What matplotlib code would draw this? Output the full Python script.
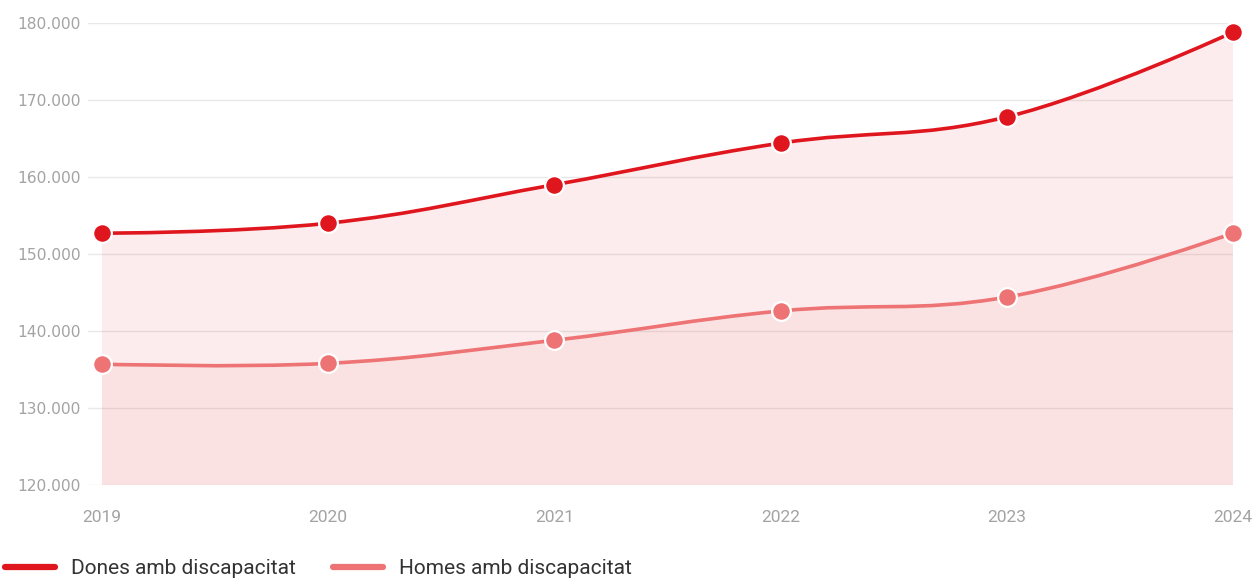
import numpy as np
import matplotlib
matplotlib.use("Agg")
import matplotlib.pyplot as plt
from matplotlib.path import Path
from matplotlib.patches import PathPatch
from matplotlib.ticker import FuncFormatter
from matplotlib import font_manager

years = [2019, 2020, 2021, 2022, 2023, 2024]
dones = [152700, 154000, 159000, 164400, 167800, 178800]
homes = [135700, 135800, 138800, 142600, 144400, 152700]
series_names = ["Dones amb discapacitat", "Homes amb discapacitat"]
line_colors = ["#e0161f", "#ee7374"]

available = {f.name for f in font_manager.fontManager.ttflist}
narrow = "Liberation Sans Narrow" if "Liberation Sans Narrow" in available else "Roboto"


def spline_path(xs, ys, base):
    # highcharts-like spline (smoothing 1.5) built from cubic beziers
    xs = list(map(float, xs))
    ys = list(map(float, ys))
    n = len(xs)
    left = [None] * n
    right = [None] * n
    sm = 1.5
    d = sm + 1
    for i in range(1, n - 1):
        lx = (sm * xs[i] + xs[i - 1]) / d
        ly = (sm * ys[i] + ys[i - 1]) / d
        rx = (sm * xs[i] + xs[i + 1]) / d
        ry = (sm * ys[i] + ys[i + 1]) / d
        if rx != lx:
            corr = ((ry - ly) * (rx - xs[i])) / (rx - lx) + ys[i] - ry
            ly += corr
            ry += corr
        left[i] = (lx, ly)
        right[i] = (rx, ry)
    verts = [(xs[0], ys[0])]
    codes = [Path.MOVETO]
    for i in range(1, n):
        c1 = right[i - 1] if right[i - 1] else (xs[i - 1], ys[i - 1])
        c2 = left[i] if left[i] else (xs[i], ys[i])
        verts += [c1, c2, (xs[i], ys[i])]
        codes += [Path.CURVE4] * 3
    line = Path(verts, codes)
    area = Path(verts + [(xs[-1], base), (xs[0], base), (xs[0], ys[0])],
                codes + [Path.LINETO, Path.LINETO, Path.CLOSEPOLY])
    return line, area


fig = plt.figure(figsize=(12.56, 5.79), dpi=100)
ax = fig.add_axes([88 / 1256, 1 - 485 / 579, (1233 - 88) / 1256, (485 - 23) / 579])

base = 120000
for vals, col, z in [(dones, line_colors[0], 2), (homes, line_colors[1], 3)]:
    line, area = spline_path(years, vals, base)
    ax.add_patch(PathPatch(area, facecolor=col, alpha=0.08, edgecolor="none", zorder=z))
    ax.add_patch(PathPatch(line, facecolor="none", edgecolor=col, lw=2.6,
                           capstyle="round", zorder=z + 2))
    ax.plot(years, vals, "o", color=col, markersize=13.5, markeredgecolor="white",
            markeredgewidth=1.6, zorder=z + 4, clip_on=False)

ax.set_xlim(2019 - 14 / 226.2, 2024)
ax.set_ylim(120000, 180000)
ax.set_yticks(np.arange(120000, 180001, 10000))
ax.yaxis.set_major_formatter(FuncFormatter(lambda v, p: f"{int(v):,}".replace(",", ".")))
ax.set_xticks(years)
ax.grid(axis="y", color="#e8e8e8", lw=1)
ax.set_axisbelow(True)
for s in ax.spines.values():
    s.set_visible(False)
ax.tick_params(axis="y", length=0, pad=5, labelsize=11.2, labelcolor="#a3a3a3")
ax.tick_params(axis="x", length=0, pad=18, labelsize=12.5, labelcolor="#a3a3a3")
for lab in ax.get_xticklabels():
    lab.set_fontfamily(narrow)

handles = [plt.Line2D([], [], color=c, lw=4.5, solid_capstyle="round") for c in line_colors]
fig.legend(handles, series_names, loc="lower left", bbox_to_anchor=(0.004, 0.002),
           ncol=2, frameon=False, handlelength=2.4, handletextpad=0.75, columnspacing=1.8,
           borderpad=0.0, borderaxespad=0.0,
           prop={"family": narrow, "size": 15}, labelcolor="#333333")

fig.savefig("out.png", dpi=100)
